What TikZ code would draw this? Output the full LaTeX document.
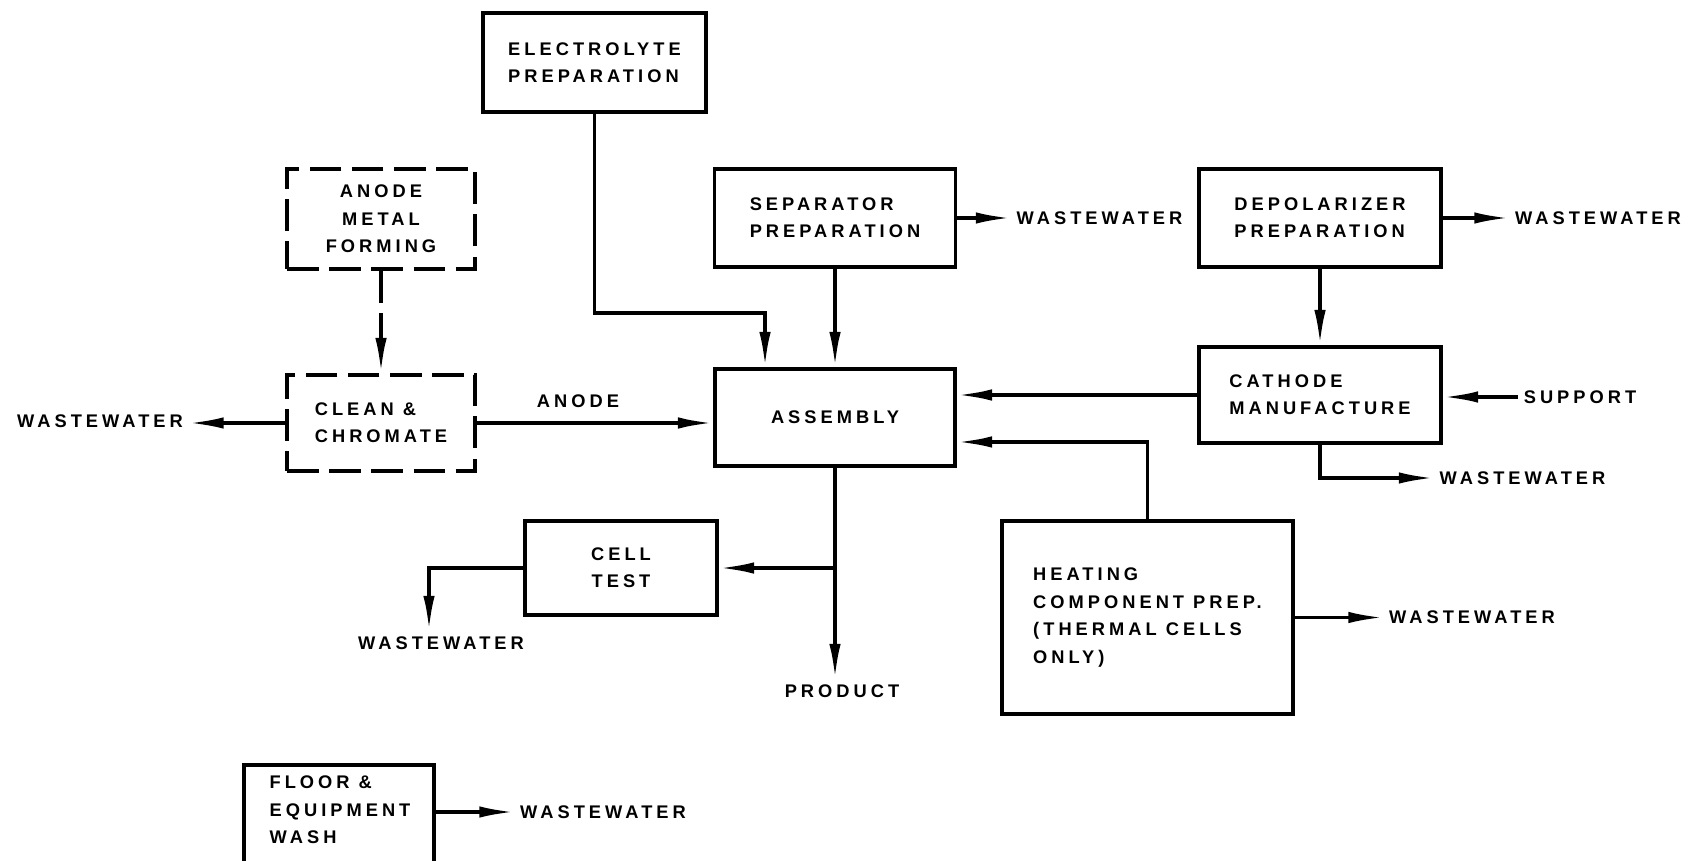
\documentclass[tikz,border=0pt]{standalone}
\usepackage{fontspec}
\newfontfamily\flowfont{Liberation Sans}[LetterSpace=22]
\usetikzlibrary{arrows.meta}

\begin{document}
\begin{tikzpicture}[x=0.02cm, y=-0.02cm,
    every node/.style={font=\flowfont\bfseries\fontsize{10.4}{15.6}\selectfont},
    box/.style={draw, line width=2.2pt, align=left},
    dbox/.style={box, dash pattern=on 18pt off 6pt},
    lbl/.style={inner sep=3pt},
    flow/.style={line width=2pt, -{Latex[length=20pt,width=6.5pt]}}]
  \useasboundingbox (0,0) rectangle (1690,861);
  \clip (0,0) rectangle (1690,861);

  % process blocks
  \node[box, minimum width=4.46cm, minimum height=1.98cm] (elec) at (594.5,62.5) {ELECTROLYTE\\PREPARATION};
  \node[dbox, align=center, minimum width=3.76cm, minimum height=2cm] (amf) at (381,219) {ANODE\\METAL\\FORMING};
  \node[box, minimum width=4.82cm, minimum height=1.96cm] (sep) at (835,218) {SEPARATOR\\PREPARATION};
  \node[box, minimum width=4.84cm, minimum height=1.96cm] (depol) at (1320,218) {DEPOLARIZER\\PREPARATION};
  \node[dbox, minimum width=3.76cm, minimum height=1.92cm] (clean) at (381,423) {CLEAN \&\\CHROMATE};
  \node[box, minimum width=4.8cm, minimum height=1.94cm] (asm) at (835,417.5) {ASSEMBLY};
  \node[box, minimum width=4.84cm, minimum height=1.92cm] (cath) at (1320,395) {CATHODE\\MANUFACTURE};
  \node[box, align=center, minimum width=3.84cm, minimum height=1.88cm] (cell) at (621,568) {CELL\\TEST};
  \node[box, minimum width=5.82cm, minimum height=3.86cm] (heat) at (1147.5,617.5) {HEATING\\COMPONENT PREP.\\(THERMAL CELLS\\ONLY)};

  % floor wash, cut off by the page edge
  \node[lbl, align=left] (floor) at (340,810) {FLOOR \&\\EQUIPMENT\\WASH};
  \draw[line width=2.2pt] (244,880) |- (434,765) -- (434,880);
  \coordinate (floorout) at (434,812);

  % stream labels
  \node[lbl] (wwA) at (100,421) {WASTEWATER};
  \node[lbl] (anolbl) at (578,401) {ANODE};
  \node[lbl] (wwS) at (1099.5,218) {WASTEWATER};
  \node[lbl] (wwD) at (1598,218) {WASTEWATER};
  \node[lbl] (sup) at (1580,397) {SUPPORT};
  \node[lbl] (wwK) at (1522.5,478) {WASTEWATER};
  \node[lbl] (wwH) at (1472,617) {WASTEWATER};
  \node[lbl] (wwC) at (441,643) {WASTEWATER};
  \node[lbl] (prod) at (842,691) {PRODUCT};
  \node[lbl] (wwF) at (603,812) {WASTEWATER};

  \draw[flow, dash pattern=on 18pt off 6pt] (amf) -- (clean);
  \draw[flow] (clean.west) -- (clean.west -| wwA.east);
  \draw[flow] (clean.east) -- (clean.east -| asm.west);
  \draw[flow] (elec.south) |- ([xshift=-1.4cm,yshift=1.08cm]asm.north) -- ([xshift=-1.4cm]asm.north);
  \draw[flow] (sep) -- (asm);
  \draw[flow] (sep.east) -- (wwS.west);
  \draw[flow] (depol.east) -- (wwD.west);
  \draw[flow] (depol) -- (cath);
  \draw[flow] (sup.west) -- (sup.west -| cath.east);
  \draw[flow] (cath.west) -- (cath.west -| asm.east);
  \draw[flow] (cath.south) |- (wwK.west);
  \draw[flow] (heat.north) |- ([yshift=-0.49cm]asm.east);
  \draw[flow] (heat.east) -- (heat.east -| wwH.west);
  \draw[flow] (asm.south) -- (asm.south |- prod.north);
  \draw[flow] (asm.south |- cell.east) -- (cell.east);
  \draw[flow] (cell.west) -| ([xshift=-0.24cm]wwC.north);
  \draw[flow] (floorout) -- (wwF.west);
\end{tikzpicture}
\end{document}
